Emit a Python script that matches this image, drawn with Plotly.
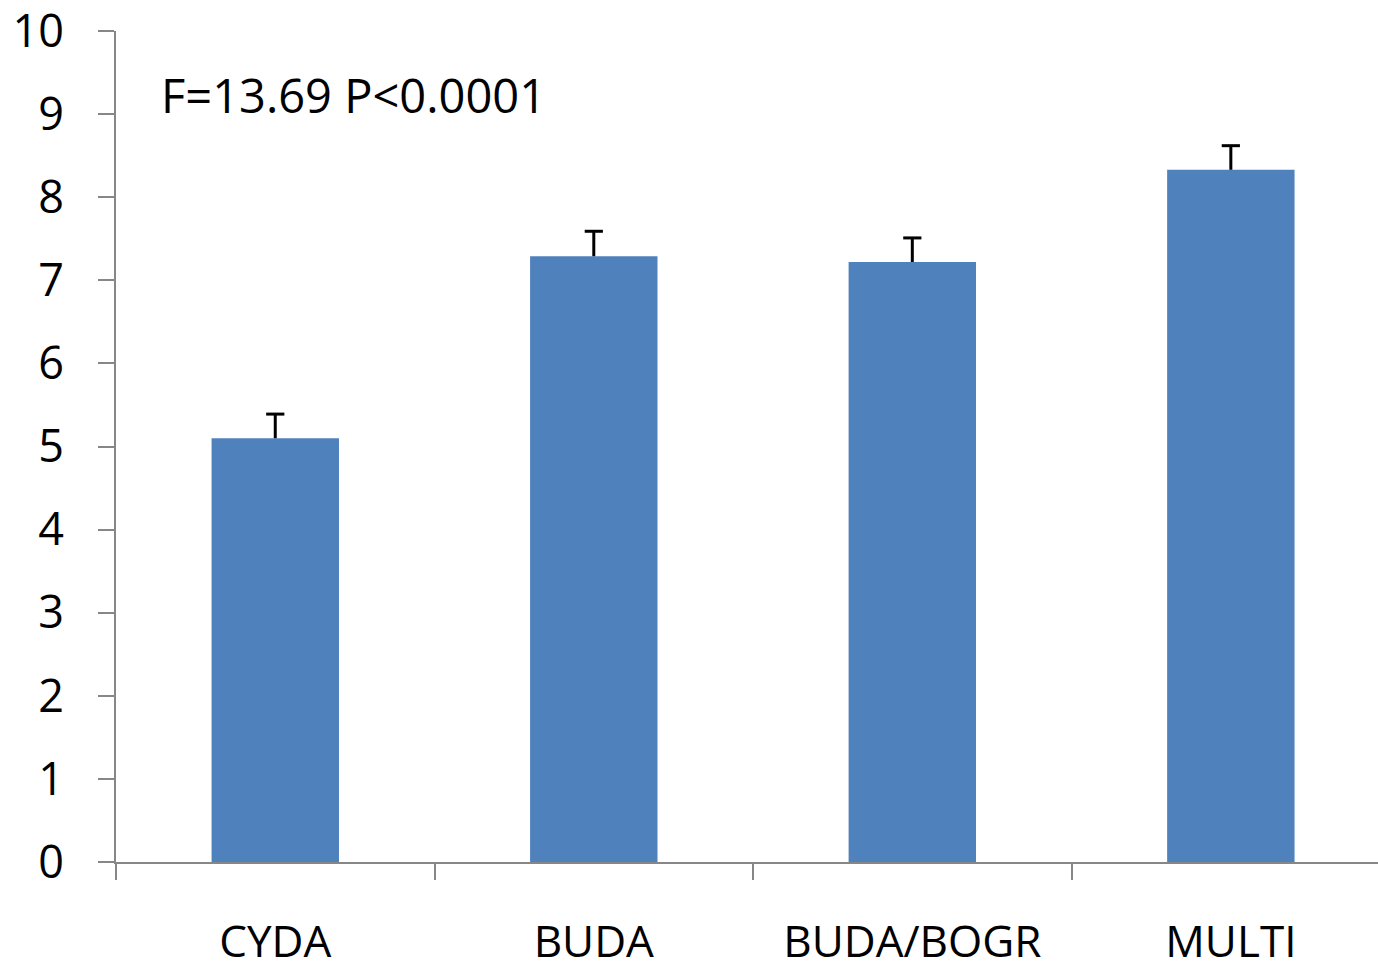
import plotly.graph_objects as go

# Group means with one-sided (upper) error bars
categories = ["CYDA", "BUDA", "BUDA/BOGR", "MULTI"]
means = [5.10, 7.29, 7.22, 8.33]
errors = [0.29, 0.30, 0.29, 0.29]
y_ticks = [0, 1, 2, 3, 4, 5, 6, 7, 8, 9, 10]
stat_text = "F=13.69 P<0.0001"

FONT = "Open Sans"
AXIS_GREY = "#878787"

fig = go.Figure(
    go.Bar(
        x=categories,
        y=means,
        width=0.40,
        marker=dict(color="#4F81BD", line=dict(width=0)),
        error_y=dict(
            type="data",
            symmetric=False,
            array=errors,
            arrayminus=[0] * len(errors),
            color="black",
            thickness=3,
            width=0,
        ),
    )
)

# Cap only on the upper end of each error bar
fig.add_trace(
    go.Scatter(
        x=categories,
        y=[m + e for m, e in zip(means, errors)],
        mode="markers",
        marker=dict(symbol="line-ew", size=13, line=dict(color="black", width=3)),
        hoverinfo="skip",
    )
)

fig.add_annotation(
    text=stat_text,
    xref="paper", yref="y",
    x=0.034, y=9.23,
    xanchor="left", yanchor="middle",
    showarrow=False,
    font=dict(family=FONT, size=47, color="black"),
)

fig.update_layout(
    width=1378,
    height=970,
    margin=dict(l=116, r=0, t=31, b=108),
    paper_bgcolor="white",
    plot_bgcolor="white",
    showlegend=False,
    font=dict(family=FONT, color="black"),
)

fig.update_xaxes(
    range=[-0.5, 3.462],
    automargin=False,
    showline=True,
    linecolor=AXIS_GREY,
    linewidth=2,
    ticks="outside",
    tickson="boundaries",
    ticklen=16,
    tickwidth=2,
    tickcolor=AXIS_GREY,
    tickfont=dict(family=FONT, size=44, color="black"),
    ticklabelstandoff=40,
    ticklabeloverflow="allow",
    showgrid=False,
    zeroline=False,
)

fig.update_yaxes(
    range=[0, 10],
    automargin=False,
    tickvals=y_ticks,
    showline=True,
    linecolor=AXIS_GREY,
    linewidth=2,
    ticks="outside",
    ticklen=16,
    tickwidth=2,
    tickcolor=AXIS_GREY,
    tickfont=dict(family=FONT, size=45, color="black"),
    ticklabelstandoff=25,
    ticklabeloverflow="allow",
    showgrid=False,
    zeroline=False,
)

fig.write_html("out.html")
